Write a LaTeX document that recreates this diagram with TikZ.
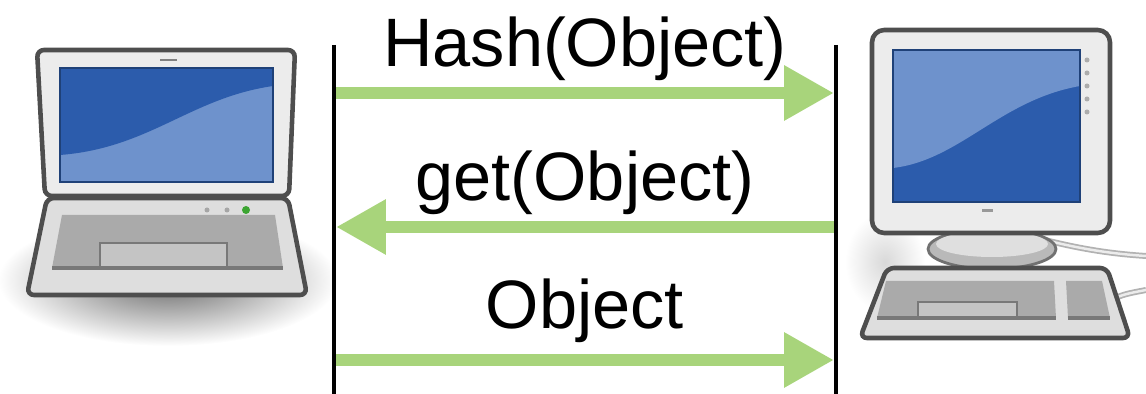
\documentclass[tikz,border=0pt]{standalone}
\usepackage{fontspec}
\setmainfont{Liberation Sans}
\usetikzlibrary{arrows.meta,positioning}

\definecolor{msggreen}{RGB}{168,212,123}
\definecolor{casegray}{RGB}{78,78,78}
\definecolor{bezel}{RGB}{236,236,236}
\definecolor{basegray}{RGB}{222,222,222}
\definecolor{keygray}{RGB}{170,170,170}
\definecolor{keydark}{RGB}{120,120,120}
\definecolor{padgray}{RGB}{196,196,196}
\definecolor{scrdark}{RGB}{44,92,172}
\definecolor{scrlight}{RGB}{110,146,204}
\definecolor{ledgreen}{RGB}{60,165,50}

\begin{document}
\begin{tikzpicture}[
    x=0.02cm, y=-0.02cm,
    lifeline/.style={line width=2.3pt, color=black},
    msg/.style={line width=7.2pt, color=msggreen, -{Triangle[length=1cm, width=1.04cm]}},
    msglabel/.style={anchor=base, inner sep=0pt, text=black, font=\fontsize{39}{46}\selectfont},
    casing/.style={line width=2.6pt, draw=casegray, rounded corners=4pt},
    cable/.style={line width=3.4pt, color=gray!60},
    cablecore/.style={line width=1.4pt, color=gray!15}
]
\useasboundingbox (0,0) rectangle (1146,394);

% Soft shadows under the machines
\shade[inner color=black!60, outer color=white] (168,280) ellipse [x radius=170, y radius=66];
\shade[inner color=black!15, outer color=white] (885,262) ellipse [x radius=40, y radius=50];

% Laptop - lid
\filldraw[casing, fill=bezel] (37,50) -- (295,50) -- (289,196) -- (45,196) -- cycle;
\fill[scrlight] (60,68) rectangle (273,182);
\fill[scrdark] (60,68) -- (273,68) -- (273,86) .. controls (190,98) and (150,148) .. (60,155) -- cycle;
\draw[line width=1pt, scrdark!70!black] (60,68) rectangle (273,182);
\draw[line width=1.2pt, gray] (160,60) -- (177,60);

% Laptop - base
\filldraw[casing, fill=basegray] (47,198) -- (288,198) -- (307,295) -- (27,295) -- cycle;
\fill[keygray] (62,215) -- (275,215) -- (283,268) -- (52,268) -- cycle;
\fill[padgray] (100,243) rectangle (227,268);
\draw[line width=1pt, keydark] (100,268) -- (100,243) -- (227,243) -- (227,268);
\draw[line width=2.2pt, keydark] (52,268) -- (283,268);
\fill[gray!70] (207,210) circle [radius=2.5];
\fill[gray!70] (227,210) circle [radius=2.5];
\fill[ledgreen] (246,210) circle [radius=4];

% Desktop - cables
\draw[cable] (1045,240) .. controls (1085,250) and (1115,254) .. (1146,256);
\draw[cablecore] (1045,240) .. controls (1085,250) and (1115,254) .. (1146,256);
\draw[cable] (1110,300) .. controls (1125,294) .. (1146,290);
\draw[cablecore] (1110,300) .. controls (1125,294) .. (1146,290);

% Desktop - stand
\fill[gray!55] (962,230) rectangle (1022,245);
\filldraw[line width=1.6pt, draw=casegray!80, fill=gray!55] (992,249) ellipse [x radius=64, y radius=20];
\fill[gray!25] (992,244) ellipse [x radius=56, y radius=13];

% Desktop - monitor
\filldraw[casing, rounded corners=7pt, fill=bezel] (872,30) rectangle (1110,233);
\fill[scrdark] (893,50) rectangle (1080,202);
\fill[scrlight] (893,50) -- (1080,50) -- (1080,86) .. controls (1000,100) and (960,160) .. (893,168) -- cycle;
\draw[line width=1pt, scrdark!70!black] (893,50) rectangle (1080,202);
\foreach \by in {60,73,86,99,112}
    \fill[gray!65] (1087,\by) circle [radius=2.5];
\fill[gray!80] (982,209) rectangle (993,212);

% Desktop - keyboard
\filldraw[casing, fill=basegray] (887,268) -- (1107,268) -- (1130,338) -- (860,338) -- cycle;
\fill[keygray] (886,281) -- (1054,281) -- (1056,318) -- (877,318) -- cycle;
\fill[keygray] (1066,281) -- (1102,281) -- (1110,318) -- (1068,318) -- cycle;
\fill[padgray] (918,302) rectangle (1017,318);
\draw[line width=1pt, keydark] (918,318) -- (918,302) -- (1017,302) -- (1017,318);
\draw[line width=2.2pt, keydark] (877,318) -- (1056,318);
\draw[line width=2.2pt, keydark] (1068,318) -- (1110,318);

% Lifelines
\coordinate (cTop) at (334,45);
\coordinate (cBot) at (334,394);
\coordinate (sTop) at (836,45);
\coordinate (sBot) at (836,394);

% Message end points
\coordinate (hashL) at (336,93);
\coordinate (hashR) at (834,93);
\coordinate (getL)  at (336,227);
\coordinate (getR)  at (834,227);
\coordinate (objL)  at (336,360);
\coordinate (objR)  at (834,360);

% Messages
\draw[msg] (hashL) -- node[msglabel, yshift=0.52cm] {Hash(Object)} (hashR);
\draw[msg] (getR) -- node[msglabel, yshift=0.54cm] {get(Object)} (getL);
\draw[msg] (objL) -- node[msglabel, yshift=0.64cm] {Object} (objR);

\draw[lifeline] (cTop) -- (cBot);
\draw[lifeline] (sTop) -- (sBot);

\end{tikzpicture}
\end{document}
